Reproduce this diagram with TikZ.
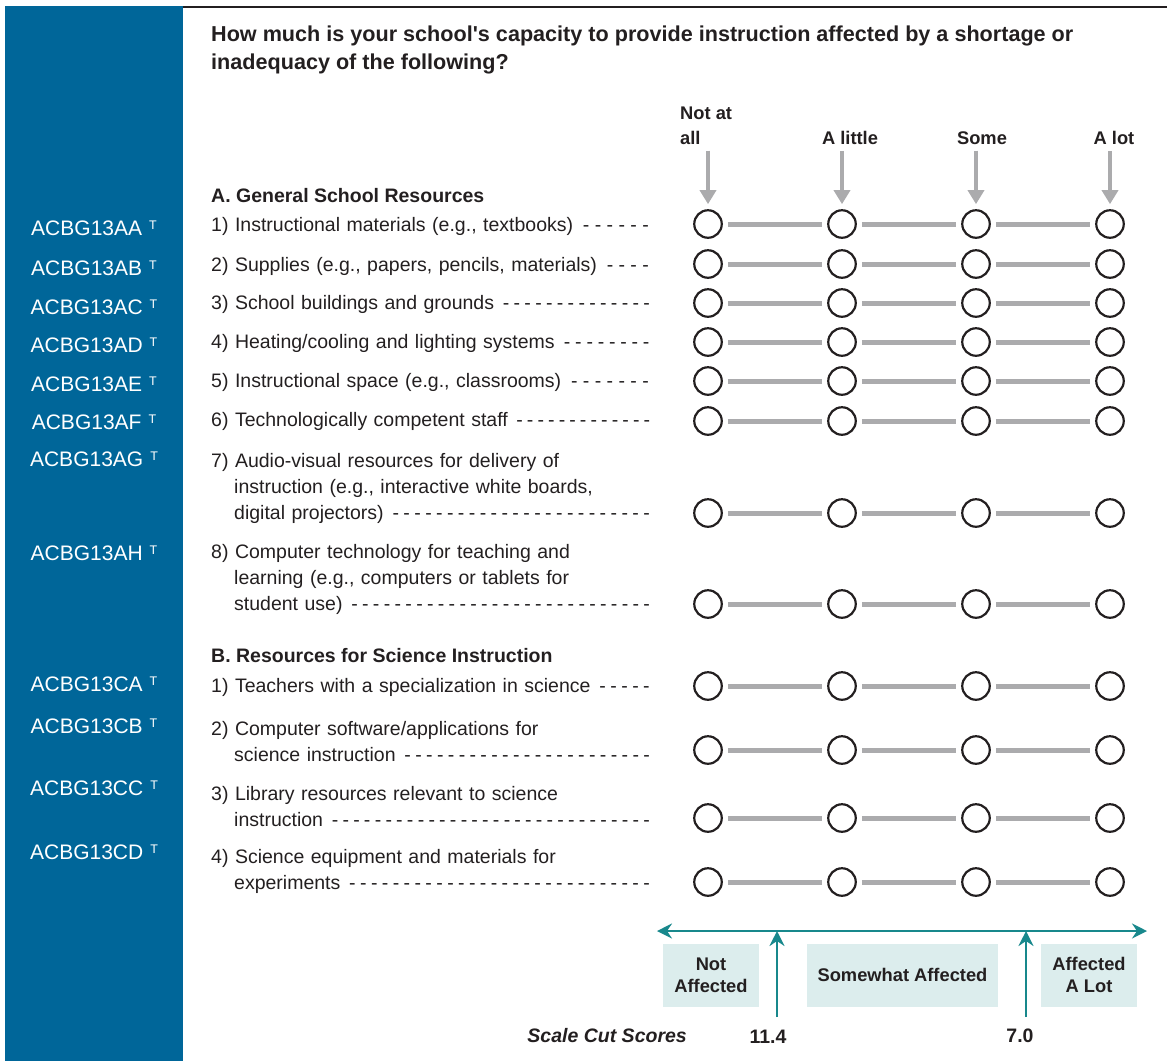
\documentclass[tikz,border=0pt]{standalone}
\usepackage{fontspec}
\setmainfont{Liberation Sans}
\usetikzlibrary{arrows.meta}
\definecolor{sidebar}{RGB}{0,102,153}
\definecolor{ink}{RGB}{35,31,32}
\definecolor{scalegray}{RGB}{171,171,173}
\definecolor{cutteal}{RGB}{24,136,140}
\definecolor{cutfill}{RGB}{220,237,237}
\newcommand{\itemdash}{\ \xleaders\hbox to 10.6pt{\hss-\hss}\hskip 0pt plus 1filll\kern0pt}
\newcommand{\nextline}{\newline\hspace*{23pt}}
\newcommand{\drawrow}[2]{\node[opt] (#1a) at (708,#2) {}; \node[opt] (#1b) at (842,#2) {}; \node[opt] (#1c) at (976,#2) {}; \node[opt] (#1d) at (1110,#2) {};
  \draw[link] (#1a) -- (#1b); \draw[link] (#1b) -- (#1c); \draw[link] (#1c) -- (#1d);}
\newcommand{\varname}[3]{\node[varlbl] (#1) at (94,#2) {#3\hspace{7pt}\raisebox{6pt}{\fontsize{12.5}{13}\selectfont T}};}
\begin{document}
\begin{tikzpicture}[x=1pt,y=-1pt,
  opt/.style={circle,draw=ink,line width=2.2pt,minimum size=27.5pt,inner sep=0pt},
  link/.style={scalegray,line width=5pt,shorten <=5pt,shorten >=5pt},
  colhead/.style={font=\fontsize{18.3}{25}\selectfont\bfseries,text=ink,inner sep=0pt},
  colarrow/.style={scalegray,line width=4.5pt,-{Triangle[width=16pt,length=14pt]},shorten <=6pt,shorten >=5pt},
  varlbl/.style={font=\fontsize{21}{24}\selectfont,text=white,inner sep=0pt},
  item/.style={anchor=west,text width=441pt,align=left,inner sep=0pt,font=\fontsize{19.5}{26}\selectfont,text=ink},
  section/.style={anchor=west,inner sep=0pt,font=\fontsize{19.5}{26}\selectfont\bfseries,text=ink},
  cutline/.style={cutteal,line width=2.6pt,{Stealth[length=15pt,width=15pt,inset=5pt]}-{Stealth[length=15pt,width=15pt,inset=5pt]}},
  cutarrow/.style={cutteal,line width=2.6pt,-{Stealth[length=15pt,width=15pt,inset=5pt]}},
  cutbox/.style={fill=cutfill,minimum height=63pt,inner sep=0pt,align=center,font=\fontsize{18.3}{22}\selectfont\bfseries,text=ink},
  score/.style={inner sep=0pt,font=\fontsize{19.5}{22}\selectfont\bfseries,text=ink}]
\useasboundingbox (0,0) rectangle (1167,1061);
\fill[sidebar] (5,6) rectangle (183,1061);
\draw[ink,line width=2.2pt] (183,7) -- (1167,7);
\node[anchor=west,align=left,inner sep=0pt,font=\fontsize{21.6}{28}\selectfont\bfseries,text=ink] (quest) at (211,50) {How much is your school\textquotesingle s capacity to provide instruction affected by a shortage or\\inadequacy of the following?};
\node[colhead,anchor=west,align=left] (hNot) at (680,125.5) {Not at\\all}; \node[colhead] (hLittle) at (850,138) {A little}; \node[colhead] (hSome) at (982,138) {Some}; \node[colhead] (hLot) at (1114,138) {A lot};
\drawrow{rAA}{224} \drawrow{rAB}{264} \drawrow{rAC}{303} \drawrow{rAD}{342} \drawrow{rAE}{381} \drawrow{rAF}{421}
\drawrow{rAG}{513} \drawrow{rAH}{604} \drawrow{rCA}{686} \drawrow{rCB}{750} \drawrow{rCC}{818} \drawrow{rCD}{882}
\draw[colarrow] (hNot.south -| rAAa) -- (rAAa); \draw[colarrow] (hLittle.south -| rAAb) -- (rAAb); \draw[colarrow] (hSome.south -| rAAc) -- (rAAc); \draw[colarrow] (hLot.south -| rAAd) -- (rAAd);
\varname{vAA}{228}{ACBG13AA} \varname{vAB}{268}{ACBG13AB} \varname{vAC}{307}{ACBG13AC} \varname{vAD}{345}{ACBG13AD} \varname{vAE}{384}{ACBG13AE} \varname{vAF}{422}{ACBG13AF}
\varname{vAG}{459}{ACBG13AG} \varname{vAH}{553}{ACBG13AH} \varname{vCA}{684}{ACBG13CA} \varname{vCB}{726}{ACBG13CB} \varname{vCC}{788}{ACBG13CC} \varname{vCD}{852}{ACBG13CD}
\node[section] (secA) at (211,196) {A. General School Resources};
\node[item] (iAA) at (211,226.5) {1) Instructional materials (e.g., textbooks)\itemdash};
\node[item] (iAB) at (211,266.5) {2) Supplies (e.g., papers, pencils, materials)\itemdash};
\node[item] (iAC) at (211,304.5) {3) School buildings and grounds\itemdash};
\node[item] (iAD) at (211,343.5) {4) Heating/cooling and lighting systems\itemdash};
\node[item] (iAE) at (211,382.5) {5) Instructional space (e.g., classrooms)\itemdash};
\node[item] (iAF) at (211,421.5) {6) Technologically competent staff\itemdash};
\node[item] (iAG) at (211,488.5) {7) Audio-visual resources for delivery of\nextline instruction (e.g., interactive white boards,\nextline digital projectors)\itemdash};
\node[item] (iAH) at (211,579.5) {8) Computer technology for teaching and\nextline learning (e.g., computers or tablets for\nextline student use)\itemdash};
\node[section] (secB) at (211,656) {B. Resources for Science Instruction};
\node[item] (iCA) at (211,687.5) {1) Teachers with a specialization in science\itemdash};
\node[item] (iCB) at (211,741.5) {2) Computer software/applications for\nextline science instruction\itemdash};
\node[item] (iCC) at (211,806.5) {3) Library resources relevant to science\nextline instruction\itemdash};
\node[item] (iCD) at (211,871.5) {4) Science equipment and materials for\nextline experiments\itemdash};
\coordinate (scL) at (657,931); \coordinate (scR) at (1147,931);
\draw[cutline] (scL) -- (scR);
\node[cutbox,minimum width=96pt] (bNot) at (711,975) {Not\\Affected};
\node[cutbox,minimum width=191pt] (bSome) at (902.5,975) {Somewhat Affected};
\node[cutbox,minimum width=96pt] (bLot) at (1089,975) {Affected\\A Lot};
\node[score,anchor=east] (scs) at (687,1036) {\itshape Scale Cut Scores};
\node[score] (cutA) at (768,1037) {11.4}; \node[score] (cutB) at (1020,1036) {7.0};
\coordinate (footA) at (777,1017); \coordinate (footB) at (1026,1017);
\draw[cutarrow] (footA) -- (footA |- scL); \draw[cutarrow] (footB) -- (footB |- scL);
\end{tikzpicture}
\end{document}
